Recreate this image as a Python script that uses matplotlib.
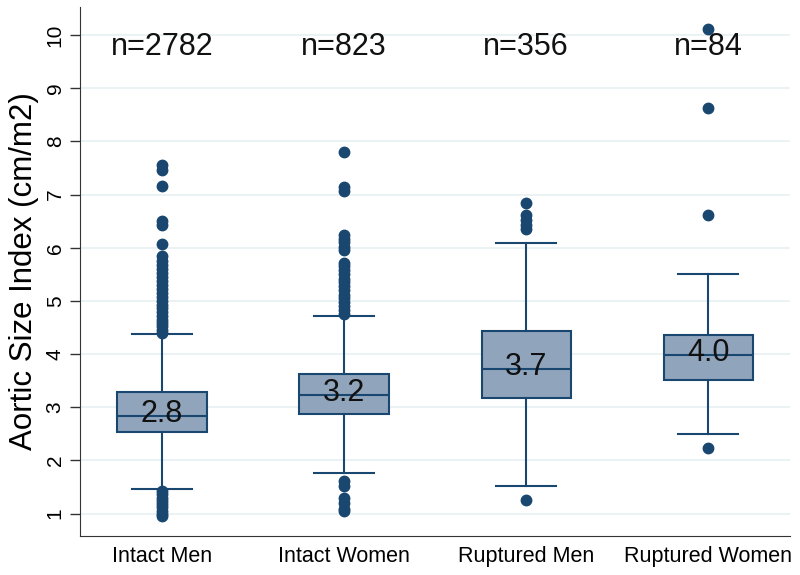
import matplotlib.pyplot as plt

# groups and sample sizes
groups = ["Intact Men", "Intact Women", "Ruptured Men", "Ruptured Women"]
n_counts = ["n=2782", "n=823", "n=356", "n=84"]
median_labels = ["2.8", "3.2", "3.7", "4.0"]

# box statistics (cm/m2)
medians = [2.84, 3.23, 3.72, 3.99]
q1 = [2.54, 2.87, 3.18, 3.52]
q3 = [3.28, 3.62, 4.43, 4.35]
whisk_lo = [1.46, 1.76, 1.52, 2.50]
whisk_hi = [4.38, 4.72, 6.08, 5.51]

fliers_intact_men = [7.55, 7.47, 7.17, 6.50, 6.42, 6.07, 5.84, 5.76, 5.68, 5.60,
                     5.52, 5.45, 5.38, 5.30, 5.22, 5.15, 5.08, 5.00, 4.93, 4.86,
                     4.79, 4.72, 4.65, 4.58, 4.52, 4.46, 4.40,
                     1.42, 1.36, 1.30, 1.24, 1.18, 1.12, 1.05, 0.99, 0.95]
fliers_intact_women = [7.81, 7.14, 7.06, 6.24, 6.17, 6.10, 6.02, 5.96, 5.72, 5.65,
                       5.58, 5.50, 5.42, 5.35, 5.28, 5.20, 5.12, 5.05, 4.98, 4.90,
                       4.83, 4.76, 1.62, 1.52, 1.30, 1.20, 1.09, 1.05]
fliers_ruptured_men = [6.84, 6.61, 6.52, 6.43, 6.36, 1.26]
fliers_ruptured_women = [10.12, 8.63, 6.61, 2.23]
fliers = [fliers_intact_men, fliers_intact_women, fliers_ruptured_men, fliers_ruptured_women]

navy = "#1a476f"
fill = "#90a4bc"

plt.rcParams['font.family'] = ['Liberation Sans', 'DejaVu Sans']

stats = []
for i in range(len(groups)):
    stats.append({
        'med': medians[i], 'q1': q1[i], 'q3': q3[i],
        'whislo': whisk_lo[i], 'whishi': whisk_hi[i],
        'fliers': fliers[i], 'label': groups[i],
    })

fig = plt.figure(figsize=(8, 5.75), dpi=100)
ax = fig.add_axes([0.1, 0.068, 0.888, 0.92])

# light horizontal grid
for v in range(1, 11):
    ax.axhline(v, color='#e8f0f2', lw=1.2, zorder=0)

ax.bxp(stats, positions=[1, 2, 3, 4], widths=0.49, capwidths=0.33,
       patch_artist=True,
       boxprops=dict(facecolor=fill, edgecolor=navy, linewidth=1.5),
       medianprops=dict(color=navy, linewidth=1.5),
       whiskerprops=dict(color=navy, linewidth=1.5),
       capprops=dict(color=navy, linewidth=1.5),
       flierprops=dict(marker='o', markerfacecolor=navy, markeredgecolor=navy,
                       markersize=7.5, linestyle='none'))

for i in range(len(groups)):
    ax.text(i + 1, medians[i] + 0.03, median_labels[i], ha='center', va='center',
            fontsize=22, color='#111111', zorder=5)
    ax.text(i + 1, 9.78, n_counts[i], ha='center', va='center',
            fontsize=22, color='#111111')

ax.set_xlim(0.55, 4.45)
ax.set_ylim(0.58, 10.53)
ax.set_yticks(range(1, 11))
ax.set_yticklabels([str(v) for v in range(1, 11)], rotation=90, va='center',
                   fontsize=15)
ax.tick_params(axis='y', length=7, width=1, color='#333333', pad=4)
ax.tick_params(axis='x', length=0, labelsize=15.5, pad=7)
ax.set_ylabel("Aortic Size Index (cm/m2)", fontsize=22.5, labelpad=5)

ax.spines['top'].set_visible(False)
ax.spines['right'].set_visible(False)
ax.spines['left'].set_color('#333333')
ax.spines['bottom'].set_color('#333333')

fig.savefig("out.png", dpi=100)
